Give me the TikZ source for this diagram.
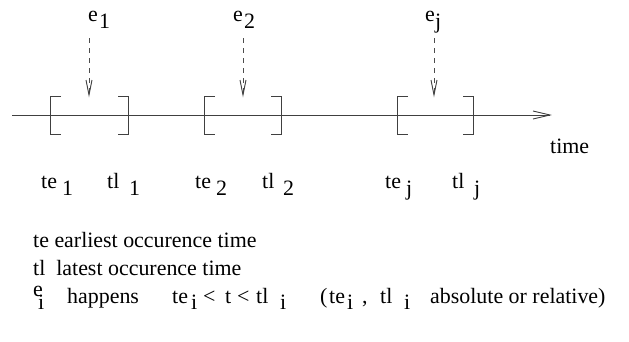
\documentclass[tikz,border=0pt]{standalone}
\usepackage{fontspec}
\setmainfont{Liberation Serif}
\begin{document}
\begin{tikzpicture}[x=1bp,y=-1bp,
  lbl/.style={inner sep=0pt,anchor=base west,font=\fontsize{22}{26}\selectfont},
  ln/.style={draw=black!75,line width=0.9bp},
  dsh/.style={draw=black!70,line width=0.9bp,dash pattern=on 5bp off 5bp}]
\useasboundingbox (0,0) rectangle (629,341);
% axis
\coordinate (a0) at (12,115);
\coordinate (a1) at (550,115);
\coordinate (h1) at (533,111);
\coordinate (h2) at (533,119);
\draw[ln] (a0) -- (a1);
\draw[ln] (h1) -- (a1) -- (h2);
% brackets
\foreach \l/\r in {50/128,204/281,397/473}{
  \draw[ln] (\l+11,96) -- (\l,96) -- (\l,134) -- (\l+11,134);
  \draw[ln] (\r-10,96) -- (\r,96) -- (\r,134) -- (\r-10,134);
}
% events
\node[lbl] (e1) at (88,21) {e};
\node[lbl] (e1s) at (99,28) {1};
\node[lbl] (e2) at (233,21) {e};
\node[lbl] (e2s) at (244,28) {2};
\node[lbl] (ej) at (425,21) {e};
\node[lbl] (ejs) at (435,28) {j};
\foreach \x/\n in {89/1,243/2,434/j}{
  \coordinate (s\n) at (\x,38);
  \coordinate (t\n) at (\x,95);
  \draw[dsh] (s\n) -- (t\n);
  \draw[ln] (\x-3,80) -- (t\n) -- (\x+3,80);
}
% time label
\node[lbl] (time) at (550,153) {time};
% bottom labels
\node[lbl] (te1) at (41,188) {te};
\node[lbl] (te1s) at (62,195) {1};
\node[lbl] (tl1) at (107,188) {tl};
\node[lbl] (tl1s) at (129,195) {1};
\node[lbl] (te2) at (195,188) {te};
\node[lbl] (te2s) at (216,195) {2};
\node[lbl] (tl2) at (262,188) {tl};
\node[lbl] (tl2s) at (283,195) {2};
\node[lbl] (tej) at (385,188) {te};
\node[lbl] (tejs) at (406,195) {j};
\node[lbl] (tlj) at (452,188) {tl};
\node[lbl] (tljs) at (474,195) {j};
% legend
\node[lbl] (L1) at (33,247) {te earliest occurence time};
\node[lbl] (L2) at (33,275) {tl\ \ latest occurence time};
\node[lbl] (ei) at (33,296) {e};
\node[lbl] (eis) at (38,309) {i};
\node[lbl] (hap) at (67,303) {happens};
\node[lbl] (tei) at (172,303) {te};
\node[lbl] (teis) at (191,309) {i};
\node[lbl] (lt1) at (203,303) {<};
\node[lbl] (tt) at (225,303) {t};
\node[lbl] (lt2) at (237,303) {<};
\node[lbl] (tli) at (256,303) {tl};
\node[lbl] (tlis) at (280,309) {i};
\node[lbl] (par) at (320,303) {(};
\node[lbl] (tei2) at (329,303) {te};
\node[lbl] (tei2s) at (347,309) {i};
\node[lbl] (com) at (362,303) {,};
\node[lbl] (tli2) at (380,303) {tl};
\node[lbl] (tli2s) at (404,309) {i};
\node[lbl] (abs) at (430,303) {absolute or relative)};
\end{tikzpicture}
\end{document}
